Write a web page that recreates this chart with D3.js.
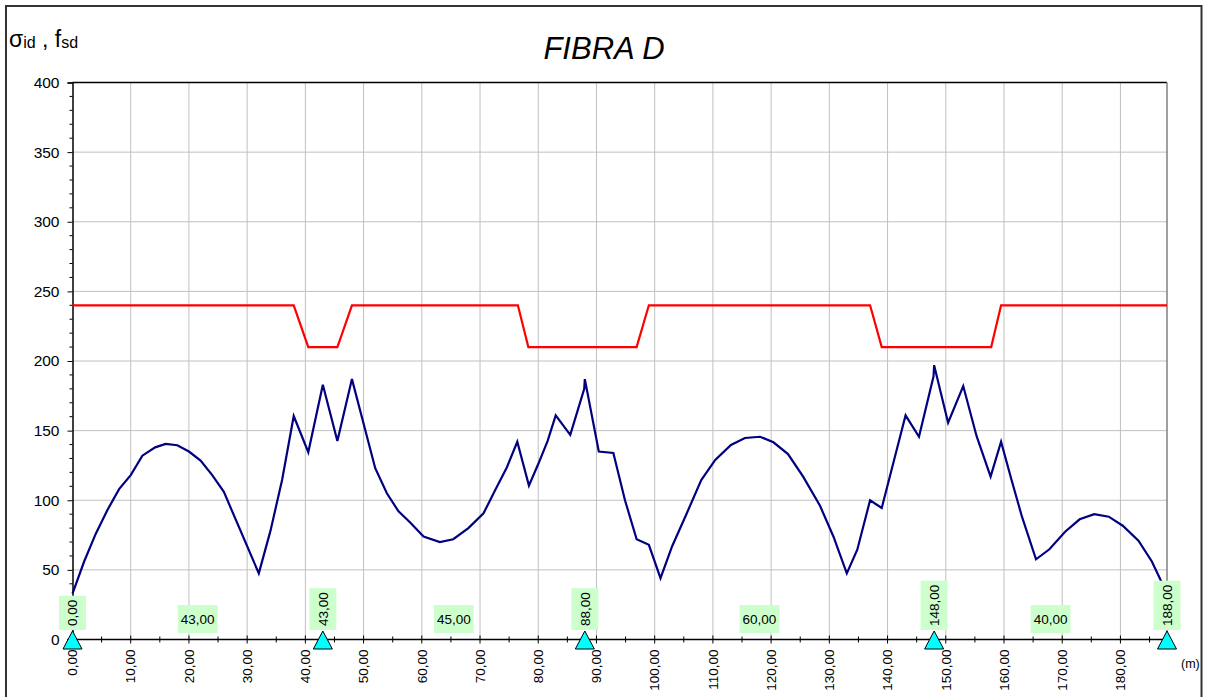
<!DOCTYPE html>
<html>
<head>
<meta charset="utf-8">
<script src="https://cdn.jsdelivr.net/npm/d3@7"></script>
<style>
  html, body { margin: 0; padding: 0; background: #fff; }
  svg { display: block; font-family: Arial, "Liberation Sans", sans-serif; }
</style>
</head>
<body>
<svg id="chart" width="1206" height="697"></svg>
<script>
// ---- data ----
const title = "FIBRA D";
const supports = [0, 43, 88, 148, 188];
const spans = [43, 45, 60, 40];
const xTicks = [0, 10, 20, 30, 40, 50, 60, 70, 80, 90, 100, 110, 120, 130, 140, 150, 160, 170, 180];
const yTicks = [0, 50, 100, 150, 200, 250, 300, 350, 400];

// sigma_id (blue)
const sigmaX = [0, 2, 4, 6, 8, 10, 12, 14.2, 16, 18, 20, 22, 24, 26, 32, 34, 36, 38, 40.5, 43, 45.5, 48,
  52, 54, 56, 58, 60.3, 63.1, 65.4, 68, 70.6, 72.7, 74.6, 76.4, 78.4, 80, 81.6, 83, 85.5, 87.9, 88, 90.4,
  92.9, 94.9, 96.9, 99, 101, 103, 105.5, 108, 110.4, 113.1, 115.5, 118.1, 120.4, 122.9, 125.5, 128.4,
  130.7, 133, 134.8, 137, 139, 143.1, 145.4, 147.9, 148, 150.4, 153, 155.3, 157.7, 159.5, 161.3, 163.1,
  165.5, 167.8, 170.5, 173, 175.5, 178, 180.4, 183.1, 185.4, 188];
const sigmaY = [33, 56, 76, 93, 108, 118, 132, 138, 140.5, 139.5, 135, 128.5, 118, 106, 47.5, 78, 114.5, 160.5, 134.5, 183, 142.5, 187,
  123, 105, 92, 84, 74, 70, 72, 80, 90.6, 108, 123.5, 142, 110.5, 126, 142.5, 161, 147, 180, 187, 135,
  134, 100, 72, 68, 44, 67, 90.5, 114.5, 129, 139.7, 144.7, 145.6, 141.6, 133.2, 117, 96,
  74, 47.5, 64.5, 100, 94.5, 161, 145.6, 189, 197, 155.7, 182, 146, 117, 142, 114.5, 88,
  57.6, 64.8, 77.4, 86.3, 90, 88.2, 81.7, 71, 56, 33];

// f_sd (red)
const fsdX = [0, 38, 40.5, 45.5, 48, 76.5, 78.3, 96.9, 99, 137, 139, 157.8, 159.5, 188];
const fsdY = [240, 240, 210, 210, 240, 240, 210, 210, 240, 240, 210, 210, 240, 240];

// ---- chart ----
const svg = d3.select("#chart");
const x = d3.scaleLinear().domain([0, 188]).range([72.5, 1167]);
const y = d3.scaleLinear().domain([0, 400]).range([639.5, 82.5]);
const loc = d3.formatLocale({decimal: ",", thousands: ".", grouping: [3], currency: ["", ""]});
const f2 = loc.format(".2f");

// outer frame
svg.append("rect").attr("x", 6).attr("y", 6).attr("width", 1195.5).attr("height", 692)
  .attr("fill", "none").attr("stroke", "#333").attr("stroke-width", 2);

// title
svg.append("text").attr("x", 604).attr("y", 59).attr("text-anchor", "middle")
  .attr("font-size", 31).attr("font-style", "italic").text(title);

// y label
const yl = svg.append("text").attr("x", 9).attr("y", 47).attr("font-size", 23);
yl.append("tspan").text("σ");
yl.append("tspan").attr("font-size", 16).attr("dy", 1).text("id");
yl.append("tspan").attr("dy", -1).text(" , f");
yl.append("tspan").attr("font-size", 16).attr("dy", 1).text("sd");

// grid
const g = svg.append("g");
g.selectAll("line.vg").data(xTicks.filter(d => d > 0)).join("line")
  .attr("x1", d => x(d)).attr("x2", d => x(d)).attr("y1", y(400)).attr("y2", y(0))
  .attr("stroke", "#c0c0c0").attr("stroke-width", 1);
g.selectAll("line.hg").data(yTicks.filter(d => d > 0 && d < 400)).join("line")
  .attr("x1", x(0)).attr("x2", x(188)).attr("y1", d => y(d)).attr("y2", d => y(d))
  .attr("stroke", "#c0c0c0").attr("stroke-width", 1);

// top & right border of plot
svg.append("line").attr("x1", x(0)).attr("x2", x(188)).attr("y1", y(400)).attr("y2", y(400))
  .attr("stroke", "#000").attr("stroke-width", 1.5);
svg.append("line").attr("x1", x(188)).attr("x2", x(188)).attr("y1", y(400)).attr("y2", y(0))
  .attr("stroke", "#808080").attr("stroke-width", 1.5);

// y axis
const yAxis = d3.axisLeft(y).tickValues(yTicks).tickSize(5).tickPadding(8).tickFormat(d3.format("d"));
const ya = svg.append("g").attr("transform", `translate(${x(0)},0)`).call(yAxis);
ya.select(".domain").attr("stroke", "#000").attr("stroke-width", 1.5);
ya.selectAll("text").attr("font-size", 15.5).attr("font-family", "Arial, 'Liberation Sans', sans-serif").attr("fill", "#000");
const yMinor = d3.range(0, 401, 10).filter(d => d % 50 !== 0);
svg.append("g").selectAll("line").data(yMinor).join("line")
  .attr("x1", x(0) - 3).attr("x2", x(0)).attr("y1", d => y(d)).attr("y2", d => y(d))
  .attr("stroke", "#000");

// x axis
svg.append("line").attr("x1", x(0) - 5).attr("x2", x(188)).attr("y1", y(0)).attr("y2", y(0))
  .attr("stroke", "#000").attr("stroke-width", 1.5);
const xMinor = d3.range(0, 188, 5);
svg.append("g").selectAll("line").data(xMinor).join("line")
  .attr("x1", d => x(d)).attr("x2", d => x(d))
  .attr("y1", d => y(0) - (d % 10 === 0 ? 4 : 3)).attr("y2", d => y(0) + (d % 10 === 0 ? 4 : 3))
  .attr("stroke", "#000");
svg.append("g").selectAll("text").data(xTicks).join("text")
  .attr("transform", d => `translate(${x(d)},${y(0) + 10}) rotate(-90)`)
  .attr("text-anchor", "end").attr("dy", "0.35em").attr("font-size", 13.5).text(d => f2(d));
svg.append("text").attr("x", 1181).attr("y", 668).attr("font-size", 12.5).text("(m)");

// f_sd line
const fsdData = fsdX.map((d, i) => [d, fsdY[i]]);
svg.append("path").datum(fsdData)
  .attr("d", d3.line().x(d => x(d[0])).y(d => y(d[1])))
  .attr("fill", "none").attr("stroke", "#ff0000").attr("stroke-width", 2.2);

// sigma line
const sigData = sigmaX.map((d, i) => [d, sigmaY[i]]);
svg.append("path").datum(sigData)
  .attr("d", d3.line().x(d => x(d[0])).y(d => y(d[1])))
  .attr("fill", "none").attr("stroke", "#000080").attr("stroke-width", 2.2).attr("stroke-linejoin", "miter");

// span labels
const spanMid = spans.map((s, i) => ({v: s, m: supports[i] + s / 2}));
const spanG = svg.append("g").selectAll("g").data(spanMid).join("g")
  .attr("transform", d => `translate(${x(d.m)},619)`);
spanG.append("text").attr("text-anchor", "middle").attr("dy", "0.35em").attr("font-size", 13.5)
  .text(d => f2(d.v));
spanG.each(function() {
  const t = d3.select(this).select("text");
  const bb = t.node().getBBox();
  d3.select(this).insert("rect", "text")
    .attr("x", bb.x - 3).attr("y", -14).attr("width", bb.width + 6).attr("height", 28)
    .attr("fill", "#ccffcc");
});

// support labels and triangles
const supG = svg.append("g").selectAll("g").data(supports).join("g")
  .attr("transform", d => `translate(${x(d)},630)`);
supG.append("text").attr("transform", "rotate(-90)").attr("x", 4).attr("text-anchor", "start")
  .attr("dy", "0.35em").attr("font-size", 13.5).text(d => f2(d));
supG.each(function() {
  const t = d3.select(this).select("text");
  const bb = t.node().getBBox();
  d3.select(this).insert("rect", "text")
    .attr("x", -13.5).attr("y", -(bb.width + 8)).attr("width", 27).attr("height", bb.width + 8)
    .attr("fill", "#ccffcc");
});
supG.append("path").attr("d", "M0,1 L9.5,19 L-9.5,19 Z")
  .attr("fill", "#00ffff").attr("stroke", "#000").attr("stroke-width", 1);
</script>
</body>
</html>
